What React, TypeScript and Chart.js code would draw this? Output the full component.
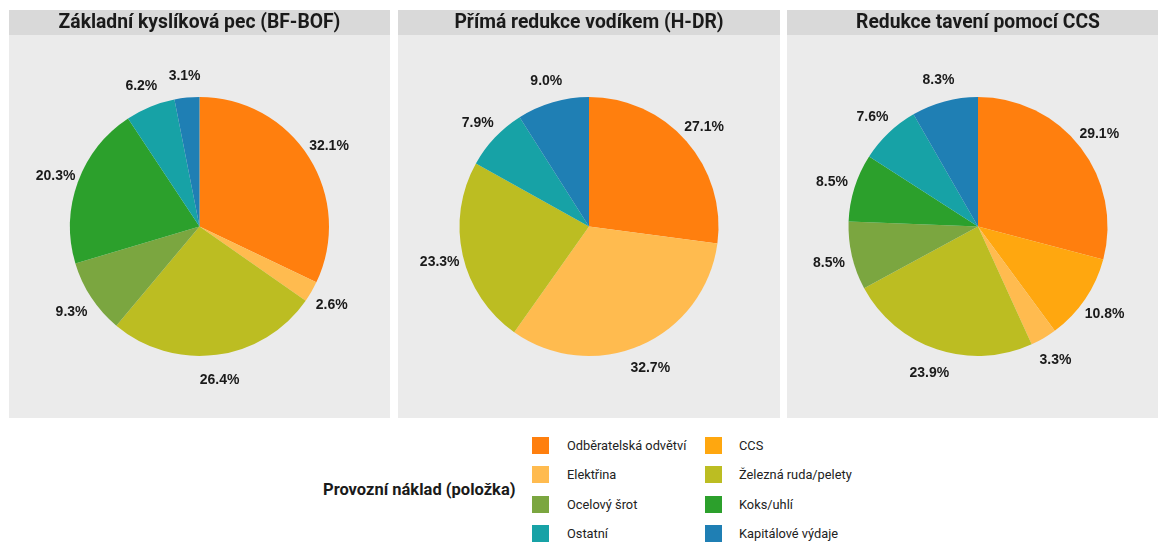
import React, { useEffect, useRef } from "react";
import { Chart, registerables } from "chart.js";

Chart.register(...registerables);

// ---------- data ----------
const categories = [
  "Odběratelská odvětví",
  "CCS",
  "Elektřina",
  "Železná ruda/pelety",
  "Ocelový šrot",
  "Koks/uhlí",
  "Ostatní",
  "Kapitálové výdaje",
];
const categoryColors = [
  "#ff7f0e",
  "#ffa70f",
  "#ffbb4f",
  "#bcbd22",
  "#7ba640",
  "#2ca02c",
  "#17a2a6",
  "#1f7fb4",
];
const panelTitles = [
  "Základní kyslíková pec (BF-BOF)",
  "Přímá redukce vodíkem (H-DR)",
  "Redukce tavení pomocí CCS",
];
const bfBofValues = [32.1, 0, 2.6, 26.4, 9.3, 20.3, 6.2, 3.1];
const hdrValues = [27.1, 0, 32.7, 23.3, 0, 0, 7.9, 9.0];
const ccsValues = [29.1, 10.8, 3.3, 23.9, 8.5, 8.5, 7.6, 8.3];
const panelValues = [bfBofValues, hdrValues, ccsValues];
const legendTitle = "Provozní náklad (položka)";

// ---------- layout ----------
const PANEL_LEFTS = [9, 398, 787];
const PANEL_WIDTHS = [381, 382, 382];
const PANEL_TOP = 10;
const PANEL_HEIGHT = 408;
const STRIP_H = 25;
const PIE_R = 129.5;
const LABEL_R_FACTOR = 1.182;

const panelPlugin = {
  id: "facetPanel",
  beforeDraw(chart: any, _args: any, opts: any) {
    const { ctx, width, height } = chart;
    ctx.save();
    ctx.fillStyle = "#ebebeb";
    ctx.fillRect(0, STRIP_H, width, height - STRIP_H);
    ctx.fillStyle = "#d9d9d9";
    ctx.fillRect(0, 0, width, STRIP_H);
    ctx.fillStyle = "#1a1a1a";
    ctx.font = "bold 19.3px Roboto";
    ctx.textAlign = "center";
    ctx.textBaseline = "middle";
    ctx.fillText(opts.title, width / 2, STRIP_H / 2 + 1);
    ctx.restore();
  },
  afterDatasetsDraw(chart: any) {
    const { ctx } = chart;
    const meta = chart.getDatasetMeta(0);
    const data = chart.data.datasets[0].data as number[];
    ctx.save();
    ctx.fillStyle = "#1a1a1a";
    ctx.font = "bold 14px 'Liberation Sans', Arial, sans-serif";
    ctx.textAlign = "center";
    ctx.textBaseline = "middle";
    meta.data.forEach((arc: any, i: number) => {
      const v = data[i];
      if (!v) return;
      const p = arc.getProps(["x", "y", "startAngle", "endAngle", "outerRadius"], true);
      const mid = (p.startAngle + p.endAngle) / 2;
      const r = p.outerRadius * LABEL_R_FACTOR;
      ctx.fillText(v.toFixed(1) + "%", p.x + Math.cos(mid) * r, p.y + Math.sin(mid) * r + 1.5);
    });
    ctx.restore();
  },
};

function PiePanel({ index }: { index: number }) {
  const ref = useRef<HTMLCanvasElement | null>(null);
  const W = PANEL_WIDTHS[index];
  const H = PANEL_HEIGHT;
  useEffect(() => {
    if (!ref.current) return;
    const cx = W / 2;
    const cy = STRIP_H + (H - STRIP_H) / 2;
    const chart = new Chart(ref.current, {
      type: "pie",
      data: {
        labels: categories,
        datasets: [
          {
            data: panelValues[index],
            backgroundColor: categoryColors,
            borderWidth: 0,
          },
        ],
      },
      options: {
        responsive: false,
        animation: false,
        devicePixelRatio: 1,
        layout: {
          padding: {
            left: cx - PIE_R,
            right: W - cx - PIE_R,
            top: cy - PIE_R,
            bottom: H - cy - PIE_R,
          },
        },
        plugins: {
          legend: { display: false },
          tooltip: { enabled: false },
          title: { display: false },
          facetPanel: { title: panelTitles[index] },
        } as any,
      },
      plugins: [panelPlugin],
    });
    return () => chart.destroy();
  }, [index]);
  return (
    <canvas
      ref={ref}
      width={W}
      height={H}
      style={{
        position: "absolute",
        left: PANEL_LEFTS[index],
        top: PANEL_TOP,
        width: W,
        height: H,
      }}
    />
  );
}

export default function App() {
  const legendRowTop = (row: number) => 437 + row * 29.3;
  return (
    <div
      style={{
        position: "fixed",
        left: 0,
        top: 0,
        width: 1158,
        height: 542,
        overflow: "hidden",
        background: "#ffffff",
        fontFamily: "Roboto, sans-serif",
      }}
    >
      {panelTitles.map((_, i) => (
        <PiePanel key={i} index={i} />
      ))}
      <div
        style={{
          position: "absolute",
          left: 323,
          top: 480,
          lineHeight: "20px",
          fontSize: 16.5,
          fontWeight: 700,
          color: "#1a1a1a",
          whiteSpace: "nowrap",
        }}
      >
        {legendTitle}
      </div>
      {categories.map((c, i) => {
        const row = Math.floor(i / 2);
        const col = i % 2;
        const top = legendRowTop(row);
        return (
          <React.Fragment key={c}>
            <div
              style={{
                position: "absolute",
                left: col === 0 ? 532 : 705,
                top,
                width: 17,
                height: 17,
                background: categoryColors[i],
              }}
            />
            <div
              style={{
                position: "absolute",
                left: col === 0 ? 567 : 739,
                top,
                lineHeight: "17px",
                fontSize: 12.8,
                color: "#222222",
                whiteSpace: "nowrap",
              }}
            >
              {c}
            </div>
          </React.Fragment>
        );
      })}
    </div>
  );
}
